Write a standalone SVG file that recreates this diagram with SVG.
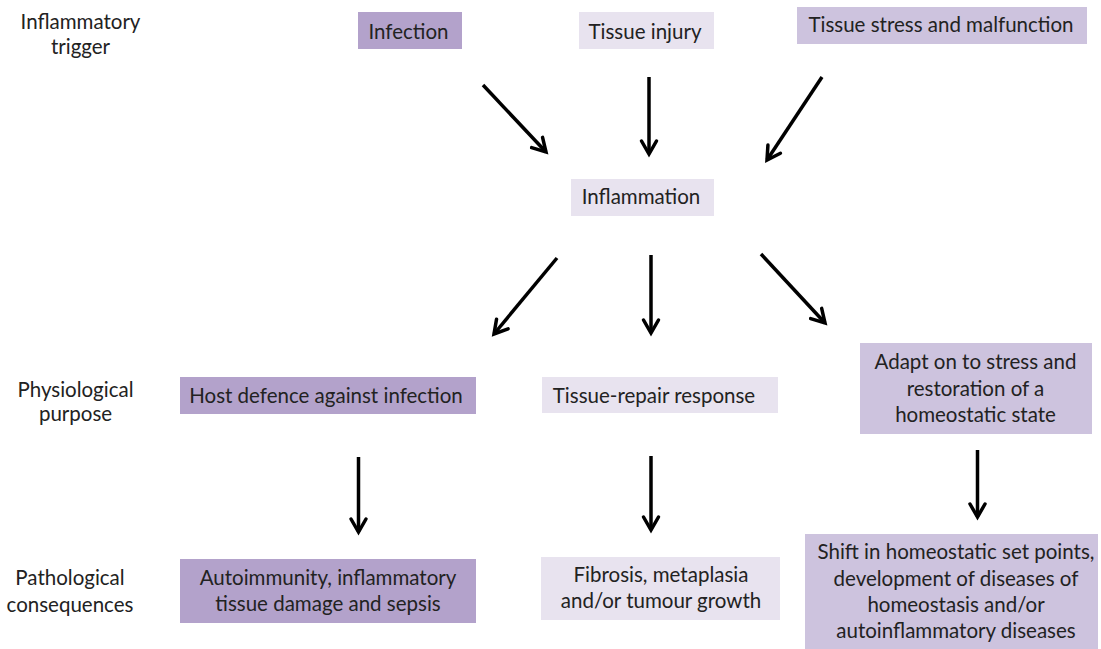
<svg xmlns="http://www.w3.org/2000/svg" width="1101" height="649" viewBox="0 0 1101 649">
<defs>
<style>
text{font-family:Lato,"Open Sans","Liberation Sans",sans-serif;font-size:20.5px;fill:#222;text-anchor:middle}
.med{fill:#b3a2cb}
.mid{fill:#cdc3de}
.lt{fill:#e8e3ef}
.arr{stroke:#000;stroke-width:3.5;fill:none;marker-end:url(#ah)}
</style>
<marker id="ah" markerUnits="userSpaceOnUse" viewBox="-20 -12 24 24" refX="0" refY="0" markerWidth="24" markerHeight="24" orient="auto" overflow="visible">
<path d="M-13,-7.5 L0,0 L-13,7.5" fill="none" stroke="#000" stroke-width="3.5" stroke-linecap="round" stroke-linejoin="miter"/>
</marker>
</defs>
<rect width="1101" height="649" fill="#fff"/>
<g id="labels">
<g id="lbl-trigger"><text x="80.5" y="29">Inflammatory</text><text x="80.5" y="54">trigger</text></g>
<g id="lbl-purpose"><text x="75.5" y="396.7">Physiological</text><text x="75.5" y="420.7">purpose</text></g>
<g id="lbl-consequences"><text x="70" y="585">Pathological</text><text x="70" y="611.7">consequences</text></g>
</g>
<g id="infection"><rect class="med" x="358" y="12" width="104" height="37"/><text x="408.5" y="39.3">Infection</text></g>
<g id="tissue-injury"><rect class="lt" x="579" y="12" width="135" height="37"/><text x="645" y="39.3">Tissue injury</text></g>
<g id="tissue-stress"><rect class="mid" x="797" y="7" width="290" height="37"/><text x="941" y="32.3">Tissue stress and malfunction</text></g>
<g id="inflammation"><rect class="lt" x="571" y="179" width="143" height="37"/><text x="641" y="204">Inflammation</text></g>
<g id="host-defence"><rect class="med" x="180" y="377" width="296" height="37"/><text x="326" y="402.7">Host defence against infection</text></g>
<g id="tissue-repair"><rect class="lt" x="542" y="377" width="236" height="36"/><text x="654" y="403.3">Tissue-repair response</text></g>
<g id="adaptation"><rect class="mid" x="860" y="343" width="232" height="91"/><text x="975.5" y="369">Adapt on to stress and</text><text x="975.5" y="395.5">restoration of a</text><text x="975.5" y="422">homeostatic state</text></g>
<g id="autoimmunity"><rect class="med" x="180" y="559" width="296" height="64"/><text x="328" y="584.5">Autoimmunity, inflammatory</text><text x="328" y="611">tissue damage and sepsis</text></g>
<g id="fibrosis"><rect class="lt" x="541" y="557" width="239" height="63"/><text x="661" y="581.5">Fibrosis, metaplasia</text><text x="661" y="608">and/or tumour growth</text></g>
<g id="shift"><rect class="mid" x="805" y="534" width="293" height="115"/><text x="956" y="559">Shift in homeostatic set points,</text><text x="956" y="585.5">development of diseases of</text><text x="956" y="612">homeostasis and/or</text><text x="956" y="638">autoinflammatory diseases</text></g>
<g id="connectors">
<line class="arr" x1="483" y1="85" x2="546" y2="152"/>
<line class="arr" x1="649" y1="77" x2="649" y2="154"/>
<line class="arr" x1="822" y1="77" x2="767" y2="160"/>
<line class="arr" x1="557" y1="258" x2="494" y2="334"/>
<line class="arr" x1="651" y1="255" x2="651" y2="333"/>
<line class="arr" x1="761" y1="254" x2="825" y2="323"/>
<line class="arr" x1="358.5" y1="457" x2="358.5" y2="532"/>
<line class="arr" x1="651" y1="456" x2="651" y2="530"/>
<line class="arr" x1="977.5" y1="450" x2="977.5" y2="517"/>
</g>
</svg>
